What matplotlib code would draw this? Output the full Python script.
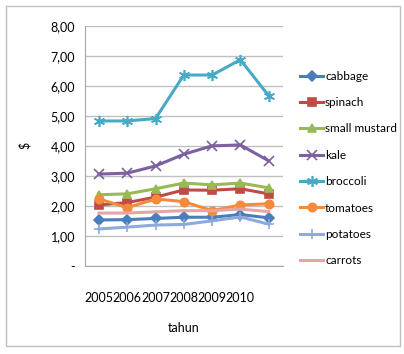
import matplotlib.pyplot as plt
from matplotlib.patches import Rectangle

plt.rcParams['font.family'] = ['Lato', 'DejaVu Sans']

# harga sayuran per tahun ($)
years = ['2005', '2006', '2007', '2008', '2009', '2010', '']
cabbage = [1.53, 1.54, 1.58, 1.62, 1.62, 1.71, 1.60]
spinach = [2.03, 2.11, 2.29, 2.53, 2.52, 2.57, 2.40]
small_mustard = [2.37, 2.40, 2.57, 2.76, 2.70, 2.76, 2.60]
kale = [3.06, 3.09, 3.33, 3.72, 4.00, 4.03, 3.50]
broccoli = [4.83, 4.83, 4.91, 6.36, 6.36, 6.87, 5.67]
tomatoes = [2.23, 1.94, 2.23, 2.14, 1.84, 2.03, 2.07]
potatoes = [1.23, 1.29, 1.36, 1.38, 1.50, 1.63, 1.39]
carrots = [1.76, 1.76, 1.80, 1.84, 1.84, 1.89, 1.81]
ytick_labels = ['-', '1,00', '2,00', '3,00', '4,00', '5,00', '6,00', '7,00', '8,00']

fig = plt.figure(figsize=(4.04, 3.54), dpi=100)
ax = fig.add_axes([0.210, 0.249, 0.490, 0.678])

x = list(range(len(years)))
series = [
    ('cabbage', cabbage, '#4A7EBB', 'D', 5),
    ('spinach', spinach, '#BE4B48', 's', 6),
    ('small mustard', small_mustard, '#98B954', '^', 6),
    ('kale', kale, '#7D60A0', 'x', 7),
    ('broccoli', broccoli, '#46AAC5', (6, 2, 0), 8),
    ('tomatoes', tomatoes, '#F38A3C', 'o', 6),
    ('potatoes', potatoes, '#8EA9DB', '+', 7),
    ('carrots', carrots, '#E3A6A4', None, 0),
]
for name, vals, col, mk, ms in series:
    ax.plot(x, vals, color=col, lw=2.2, marker=mk, markersize=ms,
            markeredgewidth=1.2, label=name)

ax.set_xlim(-0.5, 6.5)
ax.set_ylim(0, 8)
ax.set_yticks(range(9))
ax.set_yticklabels(ytick_labels)
ax.set_xticks(x)
ax.set_xticklabels(years)
ax.yaxis.grid(True, color='#BFBFBF', lw=1)
ax.set_axisbelow(True)
for s in ['top', 'right']:
    ax.spines[s].set_visible(False)
ax.spines['left'].set_color('#A6A6A6')
ax.spines['bottom'].set_color('#A6A6A6')
ax.tick_params(axis='x', length=0, pad=19, labelsize=9)
ax.tick_params(axis='y', length=0, pad=7, labelsize=9)
ax.set_xlabel('tahun', fontsize=9, labelpad=13)
ax.set_ylabel('$', fontsize=9, labelpad=14)

fig.legend(loc='upper left', bbox_to_anchor=(0.742, 0.80), frameon=False,
           borderpad=0, borderaxespad=0, fontsize=8.5, handlelength=2.0,
           handletextpad=0.15, labelspacing=1.3)

fig.add_artist(Rectangle((6 / 404, 8 / 354), 394 / 404, 340 / 354,
                         transform=fig.transFigure, fill=False,
                         edgecolor='#BFBFBF', lw=1))

fig.savefig('out.png', dpi=100)
